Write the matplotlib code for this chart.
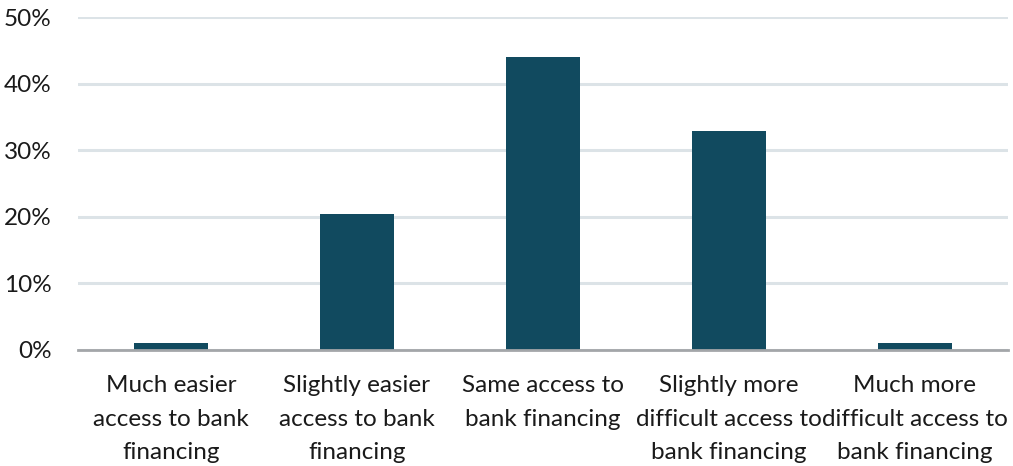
import matplotlib
matplotlib.use('Agg')
import matplotlib.pyplot as plt
from matplotlib.ticker import PercentFormatter

categories = [
    "Much easier\naccess to bank\nfinancing",
    "Slightly easier\naccess to bank\nfinancing",
    "Same access to\nbank financing",
    "Slightly more\ndifficult access to\nbank financing",
    "Much more\ndifficult access to\nbank financing",
]
shares = [1.1, 20.4, 44.0, 32.9, 1.1]
y_ticks = [0, 10, 20, 30, 40, 50]

BAR_COL = "#114A5F"
GRID_COL = "#DCE3E7"
AXIS_COL = "#A3A6A9"
TEXT_COL = "#1A1A1A"

plt.rcParams['font.family'] = ['Lato', 'DejaVu Sans']

fig = plt.figure(figsize=(10.13, 4.66), dpi=100)
ax = fig.add_axes([0.077, 0.249, 0.918, 0.7145])

x = range(len(categories))
ax.bar(x, shares, width=0.4, color=BAR_COL, zorder=3)

ax.set_ylim(0, 50)
ax.set_xlim(-0.5, len(categories) - 0.5)
ax.set_yticks(y_ticks)
ax.yaxis.set_major_formatter(PercentFormatter(decimals=0))
ax.grid(axis='y', color=GRID_COL, lw=2.2, zorder=0)
ax.set_xticks(list(x))
ax.set_xticklabels(categories, linespacing=1.75)

for s in ['top', 'right', 'left']:
    ax.spines[s].set_visible(False)
ax.spines['bottom'].set_color(AXIS_COL)
ax.spines['bottom'].set_linewidth(2)
ax.spines['bottom'].set_zorder(4)

ax.tick_params(axis='both', length=0, labelsize=17.5, colors=TEXT_COL)
ax.tick_params(axis='x', pad=18)
ax.tick_params(axis='y', pad=19)

fig.savefig("out.png", dpi=100, facecolor='white')
